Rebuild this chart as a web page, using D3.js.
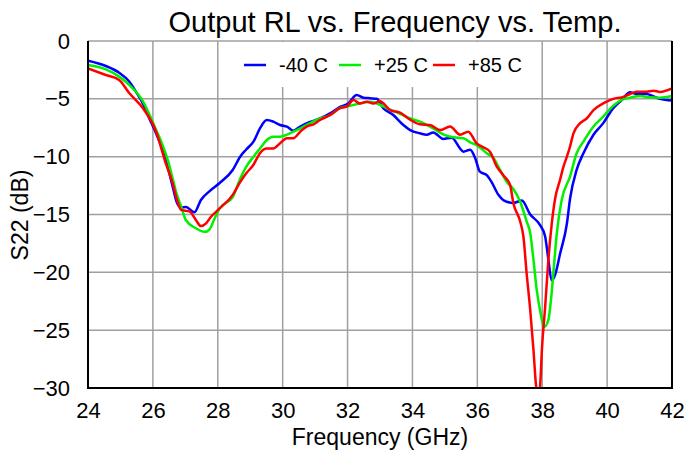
<!DOCTYPE html>
<html>
<head>
<meta charset="utf-8">
<script src="https://d3js.org/d3.v7.min.js"></script>
<style>
body { margin: 0; background: #fff; }
svg text { font-family: "Liberation Sans", Arial, sans-serif; fill: #000; }
</style>
</head>
<body>
<div id="chart"></div>
<script>
// frequency (GHz), S22 (dB)
var seriesNames = ["-40 C", "+25 C", "+85 C"];
var seriesColors = ["#0000ff", "#00f000", "#ff0000"];

var minus40 = [
	[24.0, -1.7], [24.55, -2.16], [24.96, -2.74], [25.27, -3.5], [25.48, -4.4], [25.69, -5.4],
	[25.89, -6.7], [26.10, -8.0], [26.30, -9.4], [26.46, -10.9], [26.61, -12.6], [26.73, -13.9],
	[26.87, -14.4], [27.02, -14.35], [27.28, -14.8], [27.48, -13.75], [27.74, -13.0], [28.05, -12.3],
	[28.46, -11.15], [28.69, -10.0], [28.87, -9.4], [29.10, -8.7], [29.30, -7.55], [29.51, -6.83],
	[29.71, -6.97], [29.92, -7.26], [30.13, -7.4], [30.33, -7.75], [30.54, -7.4], [30.84, -7.0],
	[31.15, -6.7], [31.46, -6.25], [31.77, -5.7], [32.02, -5.4], [32.28, -4.67], [32.49, -4.9],
	[32.69, -4.95], [32.90, -5.0], [33.10, -5.8], [33.41, -6.4], [33.72, -7.26], [33.93, -7.7],
	[34.23, -7.98], [34.44, -8.1], [34.64, -7.9], [34.95, -8.47], [35.21, -8.36], [35.47, -9.3],
	[35.57, -9.57], [35.78, -9.4], [35.93, -10.1], [36.08, -11.3], [36.29, -11.6], [36.44, -12.2],
	[36.65, -13.3], [36.80, -13.75], [37.11, -14.0], [37.37, -13.8], [37.63, -15.0], [37.93, -15.9],
	[38.09, -16.9], [38.19, -18.9], [38.29, -20.7], [38.40, -20.2], [38.55, -18.4], [38.76, -15.8],
	[38.86, -13.6], [39.06, -11.15], [39.27, -9.7], [39.58, -8.1], [39.88, -7.1], [40.19, -5.8],
	[40.45, -5.1], [40.71, -4.44], [40.91, -4.58], [41.22, -4.58], [41.43, -4.8], [41.63, -5.0],
	[42.0, -5.15]
];

var plus25 = [
	[24.0, -2.07], [24.55, -2.45], [24.96, -3.08], [25.27, -3.8], [25.69, -5.2], [26.10, -7.7],
	[26.30, -9.0], [26.46, -10.3], [26.61, -11.9], [26.73, -13.2], [26.87, -14.3], [27.02, -15.5],
	[27.33, -16.2], [27.60, -16.5], [27.74, -16.3], [27.91, -15.3], [28.05, -14.5], [28.46, -13.5],
	[28.69, -11.9], [28.87, -10.9], [29.10, -10.0], [29.30, -9.3], [29.51, -8.56], [29.71, -8.27],
	[29.92, -8.27], [30.13, -8.1], [30.43, -7.7], [30.74, -7.26], [31.15, -6.7], [31.46, -6.4],
	[31.77, -5.8], [32.08, -5.6], [32.38, -5.4], [32.69, -5.25], [32.90, -5.4], [33.21, -5.8],
	[33.62, -6.3], [33.93, -6.7], [34.23, -6.97], [34.64, -7.55], [34.95, -8.07], [35.26, -8.33],
	[35.57, -8.4], [35.78, -8.76], [35.98, -9.0], [36.29, -9.7], [36.49, -10.1], [36.70, -11.15],
	[36.91, -12.2], [37.11, -12.8], [37.32, -13.9], [37.52, -15.6], [37.63, -16.6], [37.73, -18.9],
	[37.83, -21.5], [37.93, -23.25], [38.07, -24.7], [38.19, -24.1], [38.29, -21.8], [38.36, -19.5],
	[38.45, -16.6], [38.60, -13.75], [38.86, -11.7], [39.06, -9.7], [39.27, -8.7], [39.58, -7.4],
	[39.88, -6.54], [40.19, -5.6], [40.45, -5.1], [40.71, -4.9], [41.02, -4.75], [41.32, -4.87],
	[41.63, -4.9], [42.0, -4.75]
];

var plus85 = [
	[24.0, -2.36], [24.55, -2.94], [24.96, -3.37], [25.27, -4.5], [25.69, -5.8], [26.10, -7.84],
	[26.40, -10.6], [26.61, -12.3], [26.73, -13.6], [26.87, -14.6], [27.14, -14.75], [27.33, -15.5],
	[27.48, -16.0], [27.64, -15.76], [27.79, -15.2], [28.05, -14.5], [28.46, -13.3], [28.69, -12.2],
	[28.89, -11.4], [29.10, -10.7], [29.30, -9.7], [29.51, -9.3], [29.71, -9.3], [29.92, -8.85],
	[30.13, -8.4], [30.33, -8.4], [30.54, -7.84], [30.74, -7.4], [30.95, -7.2], [31.15, -6.83],
	[31.46, -6.4], [31.77, -5.8], [31.97, -5.68], [32.18, -5.1], [32.38, -5.4], [32.59, -5.25],
	[32.79, -5.4], [33.00, -5.2], [33.31, -5.97], [33.62, -6.2], [33.93, -6.8], [34.23, -7.2],
	[34.54, -7.26], [34.85, -7.7], [35.16, -7.4], [35.47, -8.1], [35.72, -7.84], [35.98, -8.85],
	[36.19, -9.2], [36.39, -9.57], [36.60, -10.86], [36.80, -11.6], [37.01, -12.45], [37.11, -14.0],
	[37.32, -15.6], [37.42, -16.9], [37.52, -20.1], [37.63, -23.25], [37.73, -26.7], [37.81, -29.8],
	[37.88, -30.8], [37.94, -29.6], [37.99, -26.7], [38.09, -23.0], [38.19, -18.9], [38.29, -15.9],
	[38.40, -13.6], [38.55, -12.0], [38.65, -10.9], [38.76, -10.0], [38.86, -9.1], [38.96, -8.0],
	[39.17, -7.1], [39.37, -6.7], [39.58, -5.97], [39.88, -5.4], [40.19, -5.0], [40.45, -4.87],
	[40.71, -4.58], [40.91, -4.38], [41.22, -4.38], [41.43, -4.3], [41.63, -4.4], [42.0, -4.1]
];

var xTicks = [24, 26, 28, 30, 32, 34, 36, 38, 40, 42];
var yTicks = [0, -5, -10, -15, -20, -25, -30];

var W = 684, H = 454;
var plotLeft = 88, plotRight = 672, plotTop = 41, plotBottom = 388;

var xScale = d3.scaleLinear().domain([24, 42]).range([plotLeft, plotRight]);
var yScale = d3.scaleLinear().domain([0, -30]).range([plotTop, plotBottom]);

var svg = d3.
select("#chart").
append("svg").
attr("width", W).
attr("height", H);

svg.append("defs").
append("clipPath").
attr("id", "plot-clip").
append("rect").
attr("x", plotLeft).
attr("y", plotTop).
attr("width", plotRight - plotLeft).
attr("height", plotBottom - plotTop);

// grid
svg.append("g").
selectAll("line").
data(xTicks).
enter().
append("line").
attr("x1", function (d) {return xScale(d);}).
attr("x2", function (d) {return xScale(d);}).
attr("y1", plotTop).
attr("y2", plotBottom).
attr("stroke", "#a0a0a0").
attr("stroke-width", 1.5);

svg.append("g").
selectAll("line").
data(yTicks).
enter().
append("line").
attr("x1", plotLeft).
attr("x2", plotRight).
attr("y1", function (d) {return yScale(d);}).
attr("y2", function (d) {return yScale(d);}).
attr("stroke", "#a0a0a0").
attr("stroke-width", 1.5);

// axes (labels only, frame drawn below)
var xAxis = d3.axisBottom(xScale).tickValues(xTicks).tickSize(0).tickPadding(14).tickFormat(d3.format("d"));
var yAxis = d3.axisLeft(yScale).tickValues(yTicks).tickSize(0).tickPadding(18).tickFormat(d3.format("d"));

var gx = svg.append("g").
attr("transform", "translate(0," + plotBottom + ")").
call(xAxis);
gx.select(".domain").remove();
gx.selectAll("text").style("font-size", "22px").style("font-family", "Liberation Sans, Arial, sans-serif");

var gy = svg.append("g").
attr("transform", "translate(" + plotLeft + ",0)").
call(yAxis);
gy.select(".domain").remove();
gy.selectAll("text").style("font-size", "22px").style("font-family", "Liberation Sans, Arial, sans-serif");

// curves
var line = d3.line().
x(function (d) {return xScale(d[0]);}).
y(function (d) {return yScale(d[1]);}).
curve(d3.curveMonotoneX);

var allSeries = [minus40, plus25, plus85];

svg.append("g").
attr("clip-path", "url(#plot-clip)").
selectAll("path").
data(allSeries).
enter().
append("path").
attr("d", line).
attr("fill", "none").
attr("stroke", function (d, i) {return seriesColors[i];}).
attr("stroke-width", 2.5).
attr("stroke-linejoin", "round");

// frame: black on left, bottom, right
svg.append("path").
attr("d", "M" + plotLeft + "," + plotTop + "V" + plotBottom + "H" + plotRight + "V" + plotTop).
attr("fill", "none").
attr("stroke", "#000").
attr("stroke-width", 2);

// legend
var legend = svg.append("g");
legend.append("rect").
attr("x", 229).
attr("y", plotTop + 1).
attr("width", 301).
attr("height", 45).
attr("fill", "#fff");

var legendX = [244, 339, 433];
legend.selectAll("g").
data(seriesNames).
enter().
append("g").
each(function (d, i) {
	var g = d3.select(this);
	g.append("line").
	attr("x1", legendX[i]).
	attr("x2", legendX[i] + 22).
	attr("y1", 65).
	attr("y2", 65).
	attr("stroke", seriesColors[i]).
	attr("stroke-width", 2.5);
	g.append("text").
	attr("x", legendX[i] + 35).
	attr("y", 72).
	style("font-size", "20px").
	text(d);
});

// titles
svg.append("text").
attr("x", 395).
attr("y", 32).
attr("text-anchor", "middle").
style("font-size", "29px").
text("Output RL vs. Frequency vs. Temp.");

svg.append("text").
attr("x", 380).
attr("y", 445).
attr("text-anchor", "middle").
style("font-size", "23px").
text("Frequency (GHz)");

svg.append("text").
attr("transform", "translate(28,215) rotate(-90)").
attr("text-anchor", "middle").
style("font-size", "23px").
text("S22 (dB)");
</script>
</body>
</html>
